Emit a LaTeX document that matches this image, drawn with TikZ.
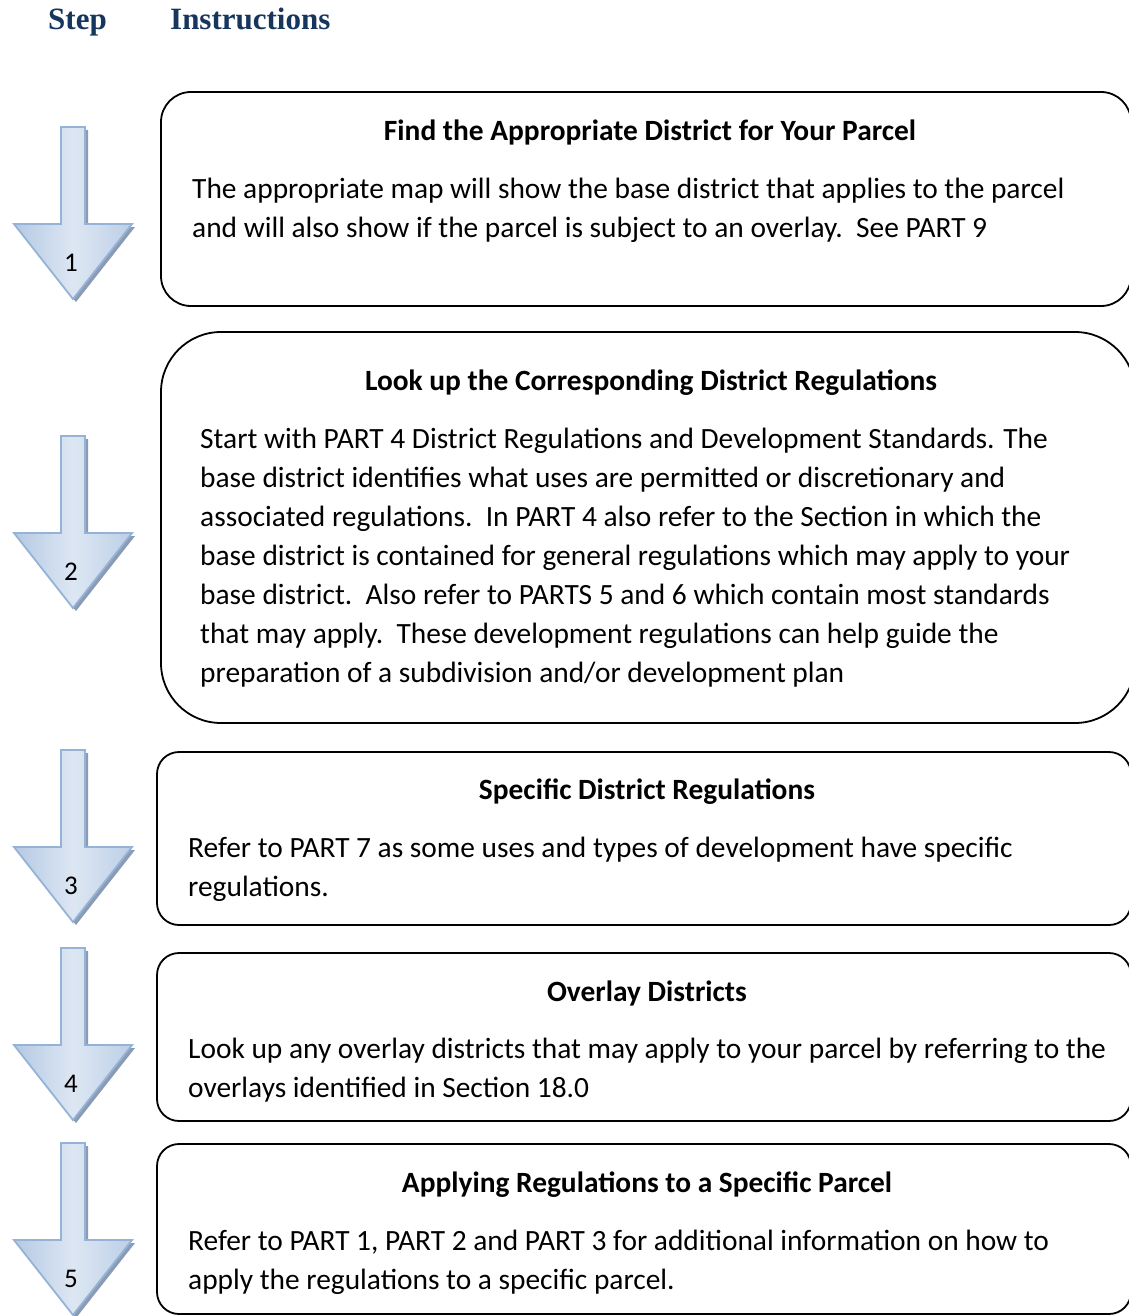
\documentclass[tikz,border=0pt]{standalone}
\usepackage{fontspec}
\setmainfont{Carlito}
\newfontfamily\headfont{Liberation Serif}
\usepackage{tikz}
\usetikzlibrary{positioning,calc}

\definecolor{headblue}{HTML}{17365D}
\definecolor{arrowedge}{HTML}{95B3D7}
\definecolor{arrowdark}{HTML}{B4C9E3}
\definecolor{arrowlight}{HTML}{DDE7F3}
\definecolor{arrowshade}{HTML}{8A9BB3}

\tikzset{
  stepbox/.style={draw, line width=1.8pt, inner sep=0pt},
  steptitle/.style={inner sep=0pt, anchor=base, font=\fontsize{29.4}{39}\selectfont\bfseries},
  % base west of a multi-line node = baseline of its last line
  stepbody/.style={inner sep=0pt, anchor=base west, align=left, font=\fontsize{29.4}{39}\selectfont},
  stepnum/.style={inner sep=0pt, font=\fontsize{27}{34}\selectfont},
  headtext/.style={inner sep=0pt, anchor=base west, text=headblue, font=\fontsize{31}{38}\selectfont\headfont\bfseries}
}

\begin{document}
\begin{tikzpicture}[x=1pt, y=-1pt]
  \fill[white] (0,0) rectangle (1128,1316);
  \useasboundingbox (0,0) rectangle (1128,1316);

  % heading
  \node[headtext] (hstep) at (48,30) {Step};
  \node[headtext] (hinstr) at (170,30) {Instructions};

  % step arrows
  \foreach \ay/\num in {127/1, 436/2, 750/3, 948/4, 1143/5} {
    \fill[arrowshade, xshift=3pt, yshift=-3pt]
      (61,\ay) -- (85,\ay) -- (85,\ay+97) -- (132,\ay+97) -- (73,\ay+172)
      -- (14,\ay+97) -- (61,\ay+97) -- cycle;
    \shadedraw[draw=arrowedge, line width=1.8pt, line join=miter,
        left color=arrowdark, right color=arrowdark!80!arrowlight, middle color=arrowlight]
      (61,\ay) -- (85,\ay) -- (85,\ay+97) -- (132,\ay+97) -- (73,\ay+172)
      -- (14,\ay+97) -- (61,\ay+97) -- cycle;
    \node[stepnum] (num\num) at (71,\ay+136) {\num};
  }

  % instruction boxes
  \node[stepbox, rounded corners=30pt, minimum width=970pt, minimum height=214pt] (box1) at (646,199) {};
  \node[stepbox, rounded corners=60pt, minimum width=974pt, minimum height=391pt] (box2) at (648,527.5) {};
  \node[stepbox, rounded corners=22pt, minimum width=974pt, minimum height=173pt] (box3) at (644,838.5) {};
  \node[stepbox, rounded corners=22pt, minimum width=974pt, minimum height=168pt] (box4) at (644,1037) {};
  \node[stepbox, rounded corners=22pt, minimum width=974pt, minimum height=170pt] (box5) at (644,1229) {};

  % box texts
  \node[steptitle] (title1) at (650,141) {Find the Appropriate District for Your Parcel};
  \node[stepbody] (body1) at (192,237) {The appropriate map will show the base district that applies to the parcel\\
    and will also show if the parcel is subject to an overlay.\ \ See PART 9};

  \node[steptitle] (title2) at (651,390) {Look up the Corresponding District Regulations};
  \begin{scope}
    \clip (150,320) rectangle (1128,688);
    \node[stepbody] (body2) at (200,682) {Start with PART 4 District Regulations and Development Standards. The\\
      base district identifies what uses are permitted or discretionary and\\
      associated regulations.\ \ In PART 4 also refer to the Section in which the\\
      base district is contained for general regulations which may apply to your\\
      base district.\ \ Also refer to PARTS 5 and 6 which contain most standards\\
      that may apply.\ \ These development regulations can help guide the\\
      preparation of a subdivision and/or development plan};
  \end{scope}

  \node[steptitle] (title3) at (647,799) {Specific District Regulations};
  \node[stepbody] (body3) at (188,896) {Refer to PART 7 as some uses and types of development have specific\\
    regulations.};

  \node[steptitle] (title4) at (647,1001) {Overlay Districts};
  \node[stepbody] (body4) at (188,1097) {Look up any overlay districts that may apply to your parcel by referring to the\\
    overlays identified in Section 18.0};

  \node[steptitle] (title5) at (647,1192) {Applying Regulations to a Specific Parcel};
  \node[stepbody] (body5) at (188,1289) {Refer to PART 1, PART 2 and PART 3 for additional information on how to\\
    apply the regulations to a specific parcel.};
\end{tikzpicture}
\end{document}
